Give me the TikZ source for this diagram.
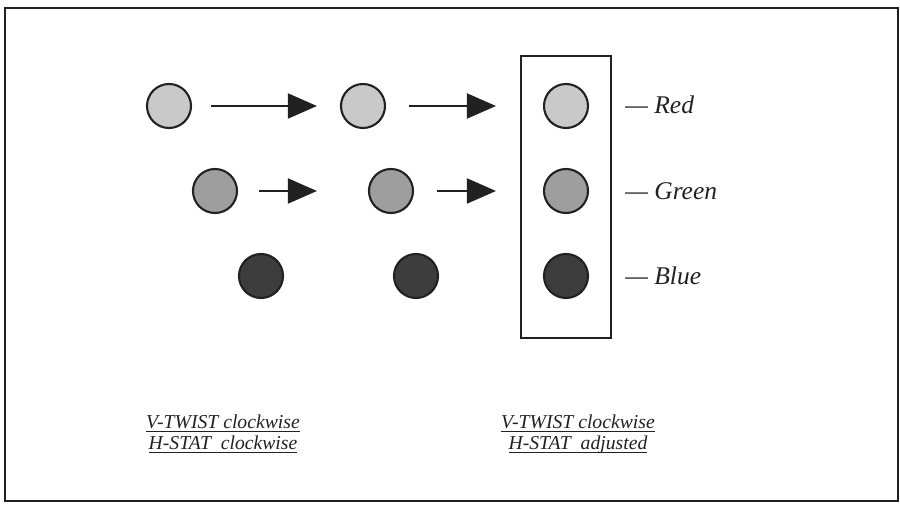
\documentclass[tikz,border=0pt]{standalone}
\usepackage{tikz}
\usepackage{fontspec}
\setmainfont{Liberation Serif}
\usetikzlibrary{arrows.meta,positioning}

\definecolor{dotlight}{gray}{0.79}
\definecolor{dotmid}{gray}{0.62}
\definecolor{dotdark}{gray}{0.24}
\definecolor{inkline}{gray}{0.13}

\newcommand{\capline}[1]{\underline{\smash{#1}}}

\begin{document}
\begin{tikzpicture}[
  dot/.style={circle, draw=inkline, line width=1.2pt, minimum size=0.88cm, inner sep=0pt, fill=#1},
  arr/.style={-{Triangle[length=0.58cm, width=0.5cm]}, line width=1.1pt, draw=inkline, fill=inkline},
  tag/.style={anchor=west, font=\fontsize{14.5}{16}\selectfont\itshape, text=inkline, inner sep=0pt},
  caption/.style={align=center, font=\fontsize{11.2}{12}\selectfont\itshape, text=inkline},
]
\useasboundingbox (0,0) rectangle (18,10.1);

% ===== Frame =====
\draw[line width=0.9pt, inkline] (0.1,0.08) rectangle (17.96,9.94);

% ===== Row 1 (red) =====
\node[dot=dotlight] (r1a) at (3.38, 7.98) {};
\node[dot=dotlight] (r1b) at (7.26, 7.98) {};
\node[dot=dotlight] (r1c) at (11.32, 7.98) {};

% ===== Row 2 (green) =====
\node[dot=dotmid] (r2a) at (4.30, 6.28) {};
\node[dot=dotmid] (r2b) at (7.82, 6.28) {};
\node[dot=dotmid] (r2c) at (11.32, 6.28) {};

% ===== Row 3 (blue) =====
\node[dot=dotdark] (r3a) at (5.22, 4.58) {};
\node[dot=dotdark] (r3b) at (8.32, 4.58) {};
\node[dot=dotdark] (r3c) at (11.32, 4.58) {};

% arrows
\draw[arr, shorten <=0.38cm, shorten >=0.46cm] (r1a) -- (r1b);
\draw[arr, shorten <=0.46cm, shorten >=0.94cm] (r1b) -- (r1c);
\draw[arr, shorten <=0.42cm, shorten >=1.02cm] (r2a) -- (r2b);
\draw[arr, shorten <=0.46cm, shorten >=0.94cm] (r2b) -- (r2c);

% ===== Adjusted column box =====
\node[draw=inkline, line width=1pt, minimum width=1.8cm, minimum height=5.64cm] (adj) at (11.32, 6.16) {};

% ===== Channel tags =====
\node[tag] (tred) at (12.5, 8.0) {--- Red};
\node[tag] (tgreen) at (12.5, 6.28) {--- Green};
\node[tag] (tblue) at (12.5, 4.58) {--- Blue};

% ===== Captions =====
\node[caption] (capl) at (4.46, 1.28) {\capline{V-TWIST clockwise}\\\capline{H-STAT\ \ clockwise}};
\node[caption] (capr) at (11.56, 1.28) {\capline{V-TWIST clockwise}\\\capline{H-STAT\ \ adjusted}};

\end{tikzpicture}
\end{document}
